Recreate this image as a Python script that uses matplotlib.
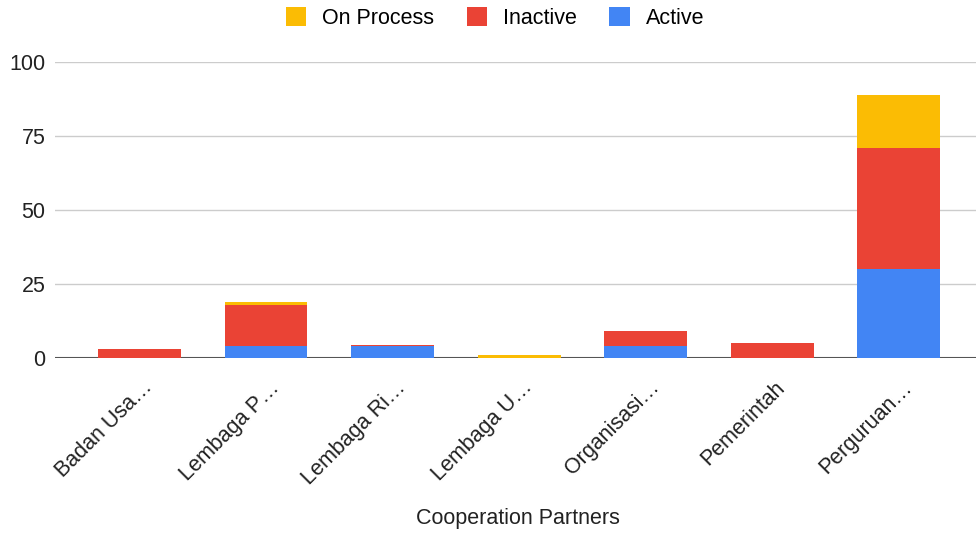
import matplotlib
matplotlib.use("Agg")
import matplotlib.pyplot as plt
import matplotlib.transforms as mtransforms
import numpy as np

categories = ["Badan Usa…", "Lembaga P…", "Lembaga Ri…", "Lembaga U…",
              "Organisasi…", "Pemerintah", "Perguruan…"]
active = [0, 4, 4, 0, 4, 0, 30]
inactive = [3, 14, 0.3, 0, 5, 5, 41]
on_process = [0, 1, 0, 1, 0, 0, 18]
yticks = [0, 25, 50, 75, 100]

plt.rcParams['font.family'] = ['Liberation Sans', 'DejaVu Sans']
fig = plt.figure(figsize=(9.76, 5.36), dpi=100)
ax = fig.add_axes([55/976, 1-358/536, 1-55/976, (358-62)/536])

x = np.arange(len(categories))
w = 0.655
c_active, c_inactive, c_on = "#4285F4", "#EA4335", "#FBBC04"
act = np.array(active, float)
ina = np.array(inactive, float)
onp = np.array(on_process, float)
ax.bar(x, act, w, color=c_active, label="Active", zorder=3)
ax.bar(x, ina, w, bottom=act, color=c_inactive, label="Inactive", zorder=3)
ax.bar(x, onp, w, bottom=act+ina, color=c_on, label="On Process", zorder=3)

ax.set_xlim(-0.667, 6.61)
ax.set_ylim(0, 100)
ax.set_yticks(yticks)
ax.set_yticklabels([str(v) for v in yticks], fontsize=15.5, color="#222222")
ax.grid(axis="y", color="#cccccc", linewidth=1, zorder=0)
ax.axhline(0, color="#555555", linewidth=1.5, zorder=2.5)
for s in ax.spines.values():
    s.set_visible(False)
ax.tick_params(axis="y", length=0, pad=7)
ax.tick_params(axis="x", length=0, pad=19)
ax.set_xticks(x)
ax.set_xticklabels(categories, rotation=45, ha="right", va="center",
                   rotation_mode="anchor", fontsize=15.5, color="#222222")
offset = mtransforms.ScaledTranslation(10/100, 0, fig.dpi_scale_trans)
for lbl in ax.get_xticklabels():
    lbl.set_transform(lbl.get_transform() + offset)
ax.set_xlabel("Cooperation Partners", fontsize=15.5, color="#222222")
ax.xaxis.set_label_coords((518 - 55) / (976 - 55), -(508 - 358) / 296)

handles, labels = ax.get_legend_handles_labels()
order = [2, 1, 0]
fig.legend([handles[i] for i in order], [labels[i] for i in order],
           loc="center", bbox_to_anchor=(495/976, 1-18/536), ncol=3,
           frameon=False, fontsize=15.5, handlelength=0.95, handleheight=0.95,
           columnspacing=1.5, handletextpad=0.75)

fig.savefig("out.png", dpi=100)
